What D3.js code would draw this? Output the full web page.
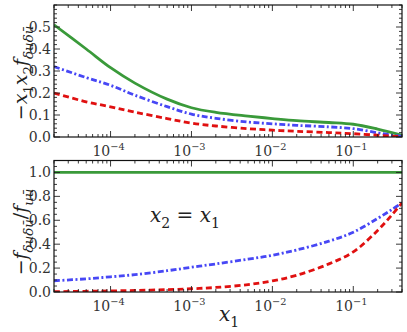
<!DOCTYPE html>
<html>
<head>
<meta charset="utf-8">
<script src="https://cdn.jsdelivr.net/npm/d3@7"></script>
<style>
  body { margin: 0; background: #fff; }
</style>
</head>
<body>
<script>
// x1 sample points (log axis)
const xVals = [2e-5, 5e-5, 1e-4, 2e-4, 5e-4, 1e-3, 2e-3, 5e-3, 1e-2, 2e-2, 5e-2, 1e-1, 2e-1, 3e-1, 4e-1];

// top panel: -x1 x2 f
const topGreen = [0.51, 0.40, 0.315, 0.245, 0.172, 0.133, 0.112, 0.095, 0.084, 0.074, 0.066, 0.058, 0.036, 0.02, 0.008];
const topBlue  = [0.32, 0.27, 0.235, 0.19, 0.138, 0.104, 0.085, 0.068, 0.06, 0.053, 0.046, 0.038, 0.019, 0.008, 0.003];
const topRed   = [0.20, 0.16, 0.137, 0.113, 0.084, 0.063, 0.05, 0.038, 0.031, 0.026, 0.02, 0.015, 0.008, 0.004, 0.002];

// bottom panel: ratio
const botGreen = [1, 1, 1, 1, 1, 1, 1, 1, 1, 1, 1, 1, 1, 1, 1];
const botBlue  = [0.094, 0.11, 0.127, 0.145, 0.178, 0.207, 0.235, 0.275, 0.307, 0.352, 0.425, 0.50, 0.615, 0.69, 0.745];
const botRed   = [0.003, 0.006, 0.009, 0.013, 0.02, 0.027, 0.038, 0.062, 0.093, 0.14, 0.235, 0.335, 0.515, 0.645, 0.745];

const xMajor = [1e-4, 1e-3, 1e-2, 1e-1];
const topTicks = [0, 0.1, 0.2, 0.3, 0.4, 0.5];
const botTicks = [0, 0.2, 0.4, 0.6, 0.8, 1.0];

const width = 407, height = 332;
const left = 54, right = 402;
const serif = 'DejaVu Serif';

const svg = d3.select('body').append('svg')
  .attr('width', width)
  .attr('height', height)
  .style('font-family', serif);

const x = d3.scaleLog().domain([2e-5, 0.4]).range([left, right]);

const styles = {
  green: { color: '#3a9a3a', dash: null },
  blue:  { color: '#4747f5', dash: '6,2.5,2,2.5' },
  red:   { color: '#e01010', dash: '6,3.5' }
};

// small helper to draw math-ish text with italics, subs and sups
function mathText(g, parts, size) {
  const t = g.append('text')
    .style('font-family', serif)
    .style('font-size', size + 'px')
    .attr('fill', '#222');
  let shift = 0;
  parts.forEach(p => {
    const target = p.sub ? size * 0.3 : (p.sup ? -size * 0.45 : 0);
    t.append('tspan')
      .attr('dy', target - shift)
      .style('font-style', p.it ? 'italic' : 'normal')
      .style('font-size', (p.sub || p.sup ? size * 0.7 : size) + 'px')
      .text(p.t);
    shift = target;
  });
  return t;
}

function panel(y0, y1, yMax, yTicks, yMinorStep, series) {
  const y = d3.scaleLinear().domain([0, yMax]).range([y1, y0]);
  const g = svg.append('g');

  // clip
  const id = 'clip' + Math.round(y0);
  svg.append('clipPath').attr('id', id)
    .append('rect').attr('x', left).attr('y', y0).attr('width', right - left).attr('height', y1 - y0);

  const line = d3.line()
    .x((d, i) => x(xVals[i]))
    .y(d => y(d))
    .curve(d3.curveCatmullRom.alpha(0.5));

  series.forEach(s => {
    g.append('path')
      .attr('clip-path', `url(#${id})`)
      .attr('d', line(s.data))
      .attr('fill', 'none')
      .attr('stroke', styles[s.key].color)
      .attr('stroke-width', 2.8)
      .attr('stroke-dasharray', styles[s.key].dash);
  });

  // ticks inside, all four sides
  const xMinor = x.ticks().filter(v => !xMajor.some(m => Math.abs(m - v) / m < 1e-6));
  const yMinor = d3.range(0, yMax + 1e-9, yMinorStep).filter(v => !yTicks.some(m => Math.abs(m - v) < 1e-6));

  const ticks = g.append('g').attr('stroke', '#222').attr('stroke-width', 0.9);
  xMajor.forEach(v => {
    ticks.append('line').attr('x1', x(v)).attr('x2', x(v)).attr('y1', y1).attr('y2', y1 - 6);
    ticks.append('line').attr('x1', x(v)).attr('x2', x(v)).attr('y1', y0).attr('y2', y0 + 6);
  });
  xMinor.forEach(v => {
    ticks.append('line').attr('x1', x(v)).attr('x2', x(v)).attr('y1', y1).attr('y2', y1 - 3);
    ticks.append('line').attr('x1', x(v)).attr('x2', x(v)).attr('y1', y0).attr('y2', y0 + 3);
  });
  yTicks.forEach(v => {
    ticks.append('line').attr('x1', left).attr('x2', left + 6).attr('y1', y(v)).attr('y2', y(v));
    ticks.append('line').attr('x1', right).attr('x2', right - 6).attr('y1', y(v)).attr('y2', y(v));
  });
  yMinor.forEach(v => {
    ticks.append('line').attr('x1', left).attr('x2', left + 3).attr('y1', y(v)).attr('y2', y(v));
    ticks.append('line').attr('x1', right).attr('x2', right - 3).attr('y1', y(v)).attr('y2', y(v));
  });

  // frame
  g.append('rect')
    .attr('x', left).attr('y', y0)
    .attr('width', right - left).attr('height', y1 - y0)
    .attr('fill', 'none').attr('stroke', '#111').attr('stroke-width', 1.2);

  // y tick labels
  yTicks.forEach(v => {
    g.append('text')
      .attr('x', left - 3).attr('y', y(v) + 5)
      .attr('text-anchor', 'end')
      .style('font-family', serif)
      .style('font-size', '14px')
      .attr('fill', '#333')
      .text(v.toFixed(1));
  });

  // x tick labels
  xMajor.forEach(v => {
    const e = Math.round(Math.log10(v));
    mathText(g, [{ t: '10' }, { t: '−' + (-e), sup: true }], 14)
      .attr('x', x(v) - 2).attr('y', y1 + 19).attr('text-anchor', 'middle').attr('fill', '#333');
  });

  return y;
}

panel(5, 137, 0.6, topTicks, 0.02, [
  { key: 'green', data: topGreen },
  { key: 'blue', data: topBlue },
  { key: 'red', data: topRed }
]);

panel(160.5, 292, 1.1, botTicks, 0.05, [
  { key: 'green', data: botGreen },
  { key: 'blue', data: botBlue },
  { key: 'red', data: botRed }
]);

// y labels
const yl1 = svg.append('g').attr('transform', 'translate(27,73) rotate(-90)');
mathText(yl1, [
  { t: '−' }, { t: 'x', it: true }, { t: '1', sub: true },
  { t: 'x', it: true }, { t: '2', sub: true },
  { t: 'f', it: true }, { t: 'δuδū', it: true, sub: true }
], 19).attr('text-anchor', 'middle');

const yl2 = svg.append('g').attr('transform', 'translate(27,232) rotate(-90)');
mathText(yl2, [
  { t: '−' }, { t: 'f', it: true }, { t: 'δuδū', it: true, sub: true },
  { t: '/' }, { t: 'f', it: true }, { t: 'uū', it: true, sub: true }
], 19).attr('text-anchor', 'middle');

// x label
mathText(svg, [{ t: 'x', it: true }, { t: '1', sub: true }], 20)
  .attr('x', 229).attr('y', 321).attr('text-anchor', 'middle');

// annotation
mathText(svg, [
  { t: 'x', it: true }, { t: '2', sub: true }, { t: ' = ' },
  { t: 'x', it: true }, { t: '1', sub: true }
], 20).attr('x', 150).attr('y', 222);
</script>
</body>
</html>
